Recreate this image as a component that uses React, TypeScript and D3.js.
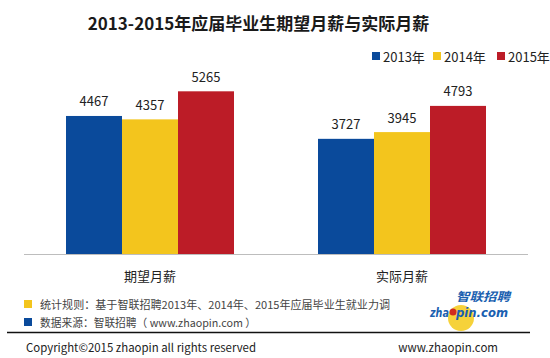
import React from "react";
import * as d3 from "d3";

const categories = ["期望月薪", "实际月薪"];
const seriesNames = ["2013年", "2014年", "2015年"];
const values2013 = [4467, 3727];
const values2014 = [4357, 3945];
const values2015 = [5265, 4793];
const seriesValues = [values2013, values2014, values2015];
const colors = ["#0A4A9B", "#F3C51D", "#BC1C27"];
const title = "2013-2015年应届毕业生期望月薪与实际月薪";
const note1 = "统计规则：基于智联招聘2013年、2014年、2015年应届毕业生就业力调";
const note2 = "数据来源：智联招聘（ www.zhaopin.com ）";
const copyright = "Copyright©2015 zhaopin all rights reserved";
const site = "www.zhaopin.com";

const FONT = "'Noto Sans CJK SC', 'Noto Sans', sans-serif";

export default function App() {
  const W = 550, H = 358;
  const x0 = d3.scaleBand<string>().domain(categories).range([24, 528]).paddingInner(0).paddingOuter(0);
  const x1 = d3.scaleBand<string>().domain(seriesNames).range([0, x0.bandwidth()]).paddingOuter(0.75).paddingInner(0);
  const y = d3.scaleLinear().domain([0, 6000]).range([254, 68.6]);

  const legendX = [372, 433, 497];

  return (
    <div style={{ position: "absolute", left: 0, top: 0 }}>
      <svg width={W} height={H} style={{ display: "block", background: "#fff" }} fontFamily={FONT}>
        <text x={258.5} y={22} textAnchor="middle" dominantBaseline="central" fontSize={17} fontWeight="bold" fill="#1a1a1a">{title}</text>

        {seriesNames.map((s, i) => (
          <g key={s}>
            <rect x={legendX[i]} y={52} width={8} height={8} fill={colors[i]} />
            <text x={legendX[i] + 11} y={56.5} dominantBaseline="central" fontSize={13} fill="#222">{s}</text>
          </g>
        ))}

        <line x1={24} x2={528} y1={254.5} y2={254.5} stroke="#bdbdbd" strokeWidth={1} />

        {categories.map((c, ci) => (
          <g key={c}>
            {seriesNames.map((s, si) => {
              const v = seriesValues[si][ci];
              const bx = (x0(c) ?? 0) + (x1(s) ?? 0);
              return (
                <g key={s}>
                  <rect x={bx} y={y(v)} width={x1.bandwidth()} height={254 - y(v)} fill={colors[si]} />
                  <text x={bx + x1.bandwidth() / 2} y={y(v) - 15} textAnchor="middle" dominantBaseline="central" fontSize={13} fill="#222">{v}</text>
                </g>
              );
            })}
            <text x={(x0(c) ?? 0) + x0.bandwidth() / 2} y={275} textAnchor="middle" dominantBaseline="central" fontSize={13} fill="#222">{c}</text>
          </g>
        ))}

        <rect x={24} y={300} width={8} height={8} fill={colors[1]} />
        <text x={40} y={304} dominantBaseline="central" fontSize={11} fill="#444" textLength={350} lengthAdjust="spacingAndGlyphs">{note1}</text>
        <rect x={24} y={318} width={8} height={8} fill={colors[0]} />
        <text x={40} y={322} dominantBaseline="central" fontSize={11} fill="#444" textLength={216} lengthAdjust="spacingAndGlyphs">{note2}</text>

        <g>
          <circle cx={461} cy={318} r={13} fill="#F6D23A" />
          <text x={456} y={295} dominantBaseline="central" fontSize={12} fontWeight="bold" fontStyle="italic" fill="#1a5fb0" textLength={54} lengthAdjust="spacingAndGlyphs">智联招聘</text>
          <text x={430} y={312} dominantBaseline="central" fontSize={13} fontWeight="bold" fontStyle="italic" fill="#1a5fb0" fontFamily="'DejaVu Sans', sans-serif" textLength={19} lengthAdjust="spacingAndGlyphs">zha</text>
          <circle cx={453} cy={312} r={3.5} fill="#d02a1e" />
          <text x={456} y={312} dominantBaseline="central" fontSize={13} fontWeight="bold" fontStyle="italic" fill="#1a5fb0" fontFamily="'DejaVu Sans', sans-serif" textLength={52} lengthAdjust="spacingAndGlyphs">pin.com</text>
        </g>

        <line x1={7} x2={530} y1={332.5} y2={332.5} stroke="#111" strokeWidth={1.5} />
        <text x={26} y={347} dominantBaseline="central" fontSize={11.5} fill="#222" textLength={230} lengthAdjust="spacingAndGlyphs">{copyright}</text>
        <text x={498} y={347} textAnchor="end" dominantBaseline="central" fontSize={11.5} fill="#222">{site}</text>
      </svg>
    </div>
  );
}
